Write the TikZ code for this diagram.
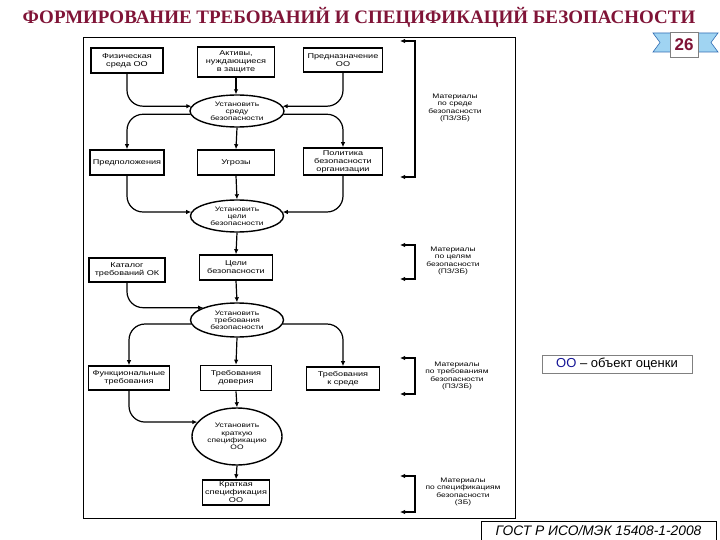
\documentclass[tikz,border=0pt]{standalone}
\usepackage{fontspec}
\setmainfont{Liberation Serif}
\newfontfamily\sans{Liberation Sans}
\newfontfamily\diag[FakeStretch=1.3]{Liberation Sans}
\usetikzlibrary{shapes.geometric,arrows.meta}
\definecolor{ttlred}{RGB}{128,20,55}
\definecolor{oblue}{RGB}{20,20,150}
\definecolor{ribfill}{RGB}{160,212,242}
\definecolor{ribline}{RGB}{50,110,180}
\tikzset{
  box/.style={draw, line width=1.6pt, align=center, inner sep=1pt, font=\diag\fontsize{7}{8}\selectfont},
  ell/.style={draw, ellipse, line width=1.4pt, align=center, inner sep=0pt, font=\diag\fontsize{6.5}{7.2}\selectfont},
  arr/.style={line width=1.2pt, rounded corners=16pt, -{Latex[length=5pt,width=4.5pt]}},
  brk/.style={line width=1.3pt, {Latex[length=5pt,width=4.5pt]}-{Latex[length=5pt,width=4.5pt]}},
  lbl/.style={align=center, inner sep=0pt, font=\diag\fontsize{6.5}{7.5}\selectfont}
}
\begin{document}
\begin{tikzpicture}[x=1pt,y=-1pt]
\useasboundingbox (0,0) rectangle (720,540);
\fill[white] (0,0) rectangle (720,540);

% title
\node[font=\rmfamily\bfseries\fontsize{19}{22}\selectfont, text=ttlred] (title) at (359,17) {ФОРМИРОВАНИЕ ТРЕБОВАНИЙ И СПЕЦИФИКАЦИЙ БЕЗОПАСНОСТИ};

% badge
\filldraw[fill=ribfill, draw=ribline, line width=0.6pt] (653,33) -- (672,33) -- (672,52) -- (653,52) -- (660,42.5) -- cycle;
\filldraw[fill=ribfill, draw=ribline, line width=0.6pt] (718,33) -- (696,33) -- (696,52) -- (718,52) -- (711,42.5) -- cycle;
\node[draw=gray, fill=white, line width=0.6pt, minimum width=28, minimum height=25, inner sep=0pt, font=\sans\bfseries\fontsize{17}{17}\selectfont, text=ttlred] (badge) at (684,44.5) {26};

% frame
\draw[line width=1pt] (83,38) rectangle (515,518);

% nodes
\node[box, minimum width=72, minimum height=25] (fiz) at (127,60.5) {Физическая\\среда ОО};
\node[box, minimum width=77, minimum height=30] (akt) at (236,62) {Активы,\\нуждающиеся\\в защите};
\node[box, minimum width=79, minimum height=24] (purp) at (343,60) {Предназначение\\ОО};
\node[ell, minimum width=94, minimum height=32] (e1) at (237,111) {Установить\\среду\\безопасности};

\node[box, minimum width=74, minimum height=25] (pred) at (127,162.5) {Предположения};
\node[box, minimum width=77, minimum height=25] (thr) at (236,162.5) {Угрозы};
\node[box, minimum width=79, minimum height=27] (pol) at (343,161.5) {Политика\\безопасности\\организации};
\node[ell, minimum width=93, minimum height=32] (e2) at (237,216) {Установить\\цели\\безопасности};

\node[box, minimum width=73, minimum height=25] (goals) at (236,267.5) {Цели\\безопасности};
\node[box, minimum width=76, minimum height=24] (cat) at (127,270) {Каталог\\требований ОК};
\node[ell, minimum width=93, minimum height=34] (e3) at (237,320) {Установить\\требования\\безопасности};

\node[box, minimum width=81, minimum height=24] (func) at (129,378) {Функциональные\\требования};
\node[box, minimum width=71, minimum height=25] (assur) at (236,378) {Требования\\доверия};
\node[box, minimum width=73, minimum height=23] (envreq) at (343,378.5) {Требования\\к среде};
\node[ell, minimum width=90, minimum height=57] (e4) at (237,436.5) {Установить\\краткую\\спецификацию\\ОО};

\node[box, minimum width=67, minimum height=25] (st) at (236,492.5) {Краткая\\спецификация\\ОО};

% connectors
\draw[arr] (fiz.south) |- (e1.174);
\draw[arr] (akt.south) -- (akt.south |- e1.north);
\draw[arr] (purp.south) |- (e1.6);
\draw[arr] (e1.184) -| (pred.north);
\draw[arr] (e1.south) -- (thr.north);
\draw[arr] (e1.356) -| (pol.north);

\draw[arr] (pred.south) |- (e2.175);
\draw[arr] (thr.south) -- (e2.north);
\draw[arr] (pol.south) |- (e2.5);

\draw[arr] (e2.south) -- (goals.north);
\draw[arr] (goals.south) -- (e3.north);
\draw[arr] (cat.south) |- (e3.160);

\draw[arr] (e3.185) -| (func.north);
\draw[arr] (e3.south) -- (assur.north);
\draw[arr] (e3.355) -| (envreq.north);

\draw[arr] (func.south) |- (e4.160);
\draw[arr] (assur.south) -- (e4.north);
\draw[arr] (e4.south) -- (st.north);

% brackets
\coordinate (b1t) at (400,41);  \coordinate (b1v) at (415,177); \coordinate (b1b) at (400,177);
\coordinate (b2t) at (400,245); \coordinate (b2v) at (415,279); \coordinate (b2b) at (400,279);
\coordinate (b3t) at (400,358); \coordinate (b3v) at (415,394); \coordinate (b3b) at (400,394);
\coordinate (b4t) at (400,476); \coordinate (b4v) at (415,512); \coordinate (b4b) at (400,512);
\draw[brk] (b1t) -| (b1v) -- (b1b);
\draw[brk] (b2t) -| (b2v) -- (b2b);
\draw[brk] (b3t) -| (b3v) -- (b3b);
\draw[brk] (b4t) -| (b4v) -- (b4b);

\node[lbl] (l1) at (455,108) {Материалы\\по среде\\безопасности\\(ПЗ/ЗБ)};
\node[lbl] (l2) at (453,261) {Материалы\\по целям\\безопасности\\(ПЗ/ЗБ)};
\node[lbl] (l3) at (457,376) {Материалы\\по требованиям\\безопасности\\(ПЗ/ЗБ)};
\node[lbl] (l4) at (463,492) {Материалы\\по спецификациям\\безопасности\\(ЗБ)};

% legend and source
\node[draw=gray, line width=0.6pt, minimum width=150, minimum height=18, inner sep=0pt, font=\sans\fontsize{13}{15}\selectfont] (legend) at (617,364) {\textcolor{oblue}{ОО} – объект оценки};
\node[draw, line width=0.6pt, minimum width=235, minimum height=19, inner sep=0pt, font=\sans\itshape\fontsize{13.8}{15}\selectfont] (gost) at (598.5,530.5) {ГОСТ Р ИСО/МЭК 15408-1-2008};
\end{tikzpicture}
\end{document}
